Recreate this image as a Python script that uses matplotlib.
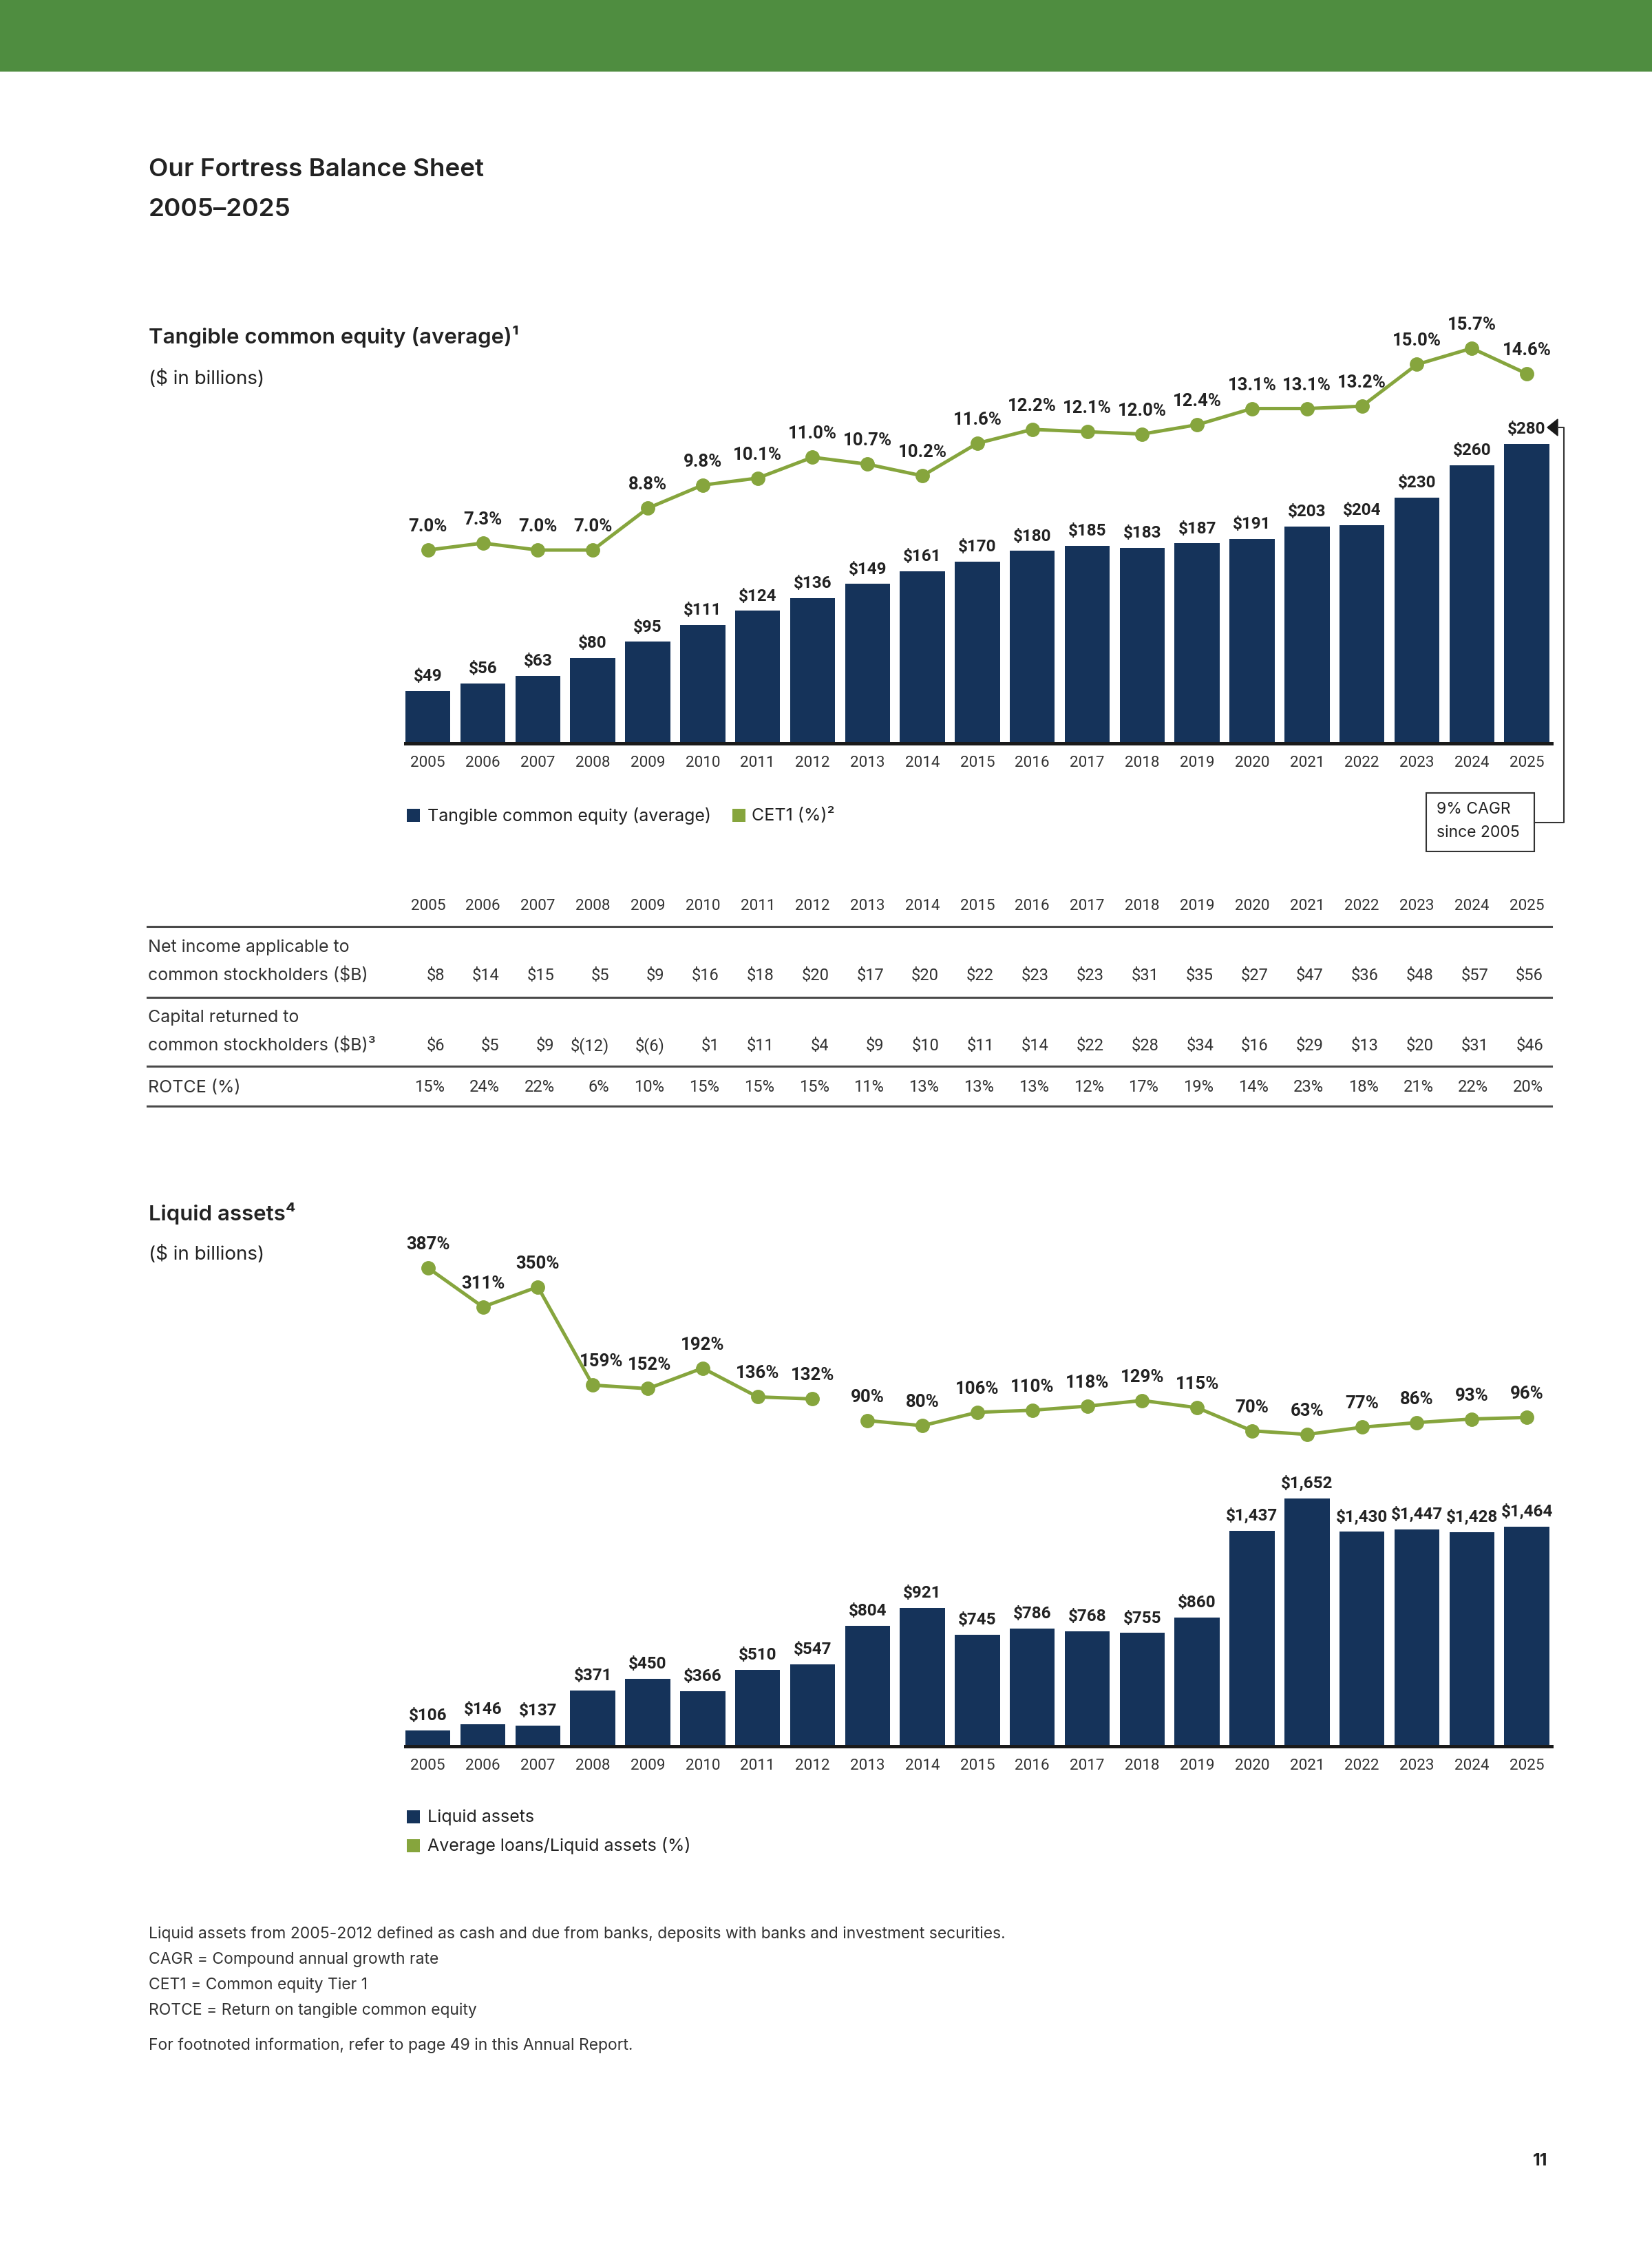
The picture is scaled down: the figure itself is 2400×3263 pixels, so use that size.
import matplotlib
matplotlib.use('Agg')
import matplotlib.pyplot as plt
from matplotlib import font_manager
from matplotlib.patches import Rectangle, Polygon
import numpy as np

years = list(range(2005, 2026))
tce = [49, 56, 63, 80, 95, 111, 124, 136, 149, 161, 170, 180, 185, 183, 187, 191, 203, 204, 230, 260, 280]
cet1 = [7.0, 7.3, 7.0, 7.0, 8.8, 9.8, 10.1, 11.0, 10.7, 10.2, 11.6, 12.2, 12.1, 12.0, 12.4, 13.1, 13.1, 13.2, 15.0, 15.7, 14.6]
net_income = [8, 14, 15, 5, 9, 16, 18, 20, 17, 20, 22, 23, 23, 31, 35, 27, 47, 36, 48, 57, 56]
capital_returned = [6, 5, 9, -12, -6, 1, 11, 4, 9, 10, 11, 14, 22, 28, 34, 16, 29, 13, 20, 31, 46]
rotce = [15, 24, 22, 6, 10, 15, 15, 15, 11, 13, 13, 13, 12, 17, 19, 14, 23, 18, 21, 22, 20]
liquid_assets = [106, 146, 137, 371, 450, 366, 510, 547, 804, 921, 745, 786, 768, 755, 860, 1437, 1652, 1430, 1447, 1428, 1464]
loans_to_liquid = [387, 311, 350, 159, 152, 192, 136, 132, 90, 80, 106, 110, 118, 129, 115, 70, 63, 77, 86, 93, 96]

footnotes = [
    "Liquid assets from 2005-2012 defined as cash and due from banks, deposits with banks and investment securities.",
    "CAGR = Compound annual growth rate",
    "CET1 = Common equity Tier 1",
    "ROTCE = Return on tangible common equity",
]

NAVY = '#15335a'
OLIVE = '#86a53d'
BAND = '#4f8d40'
INK = '#222222'
GREY = '#333333'

W, H = 2400, 3263
DPI = 100

installed = {f.name for f in font_manager.fontManager.ttflist}
TEXT_FONT = [f for f in ['Inter', 'Roboto', 'DejaVu Sans'] if f in installed][0]
narrow = 'Liberation Sans Narrow' in installed
NUM_FONT = 'Liberation Sans Narrow' if narrow else 'Roboto'
k = 1.0 if narrow else 0.9
TXT = [TEXT_FONT, 'DejaVu Sans']
NUM = [NUM_FONT, 'DejaVu Sans']

fig = plt.figure(figsize=(W / DPI, H / DPI), dpi=DPI)
fig.patch.set_facecolor('white')

# overlay in page pixels for text and rules
ov = fig.add_axes([0, 0, 1, 1])
ov.set_xlim(0, W)
ov.set_ylim(H, 0)
ov.axis('off')


def rect(left, top, right, bottom):
    return [left / W, 1 - bottom / H, (right - left) / W, (bottom - top) / H]


def money(v):
    return f"${v:,}" if v >= 0 else f"$({-v:,})"


ov.add_patch(Rectangle((0, 0), W, 104, color=BAND, lw=0))
ov.text(216, 246, "Our Fortress Balance Sheet", fontsize=26.5, fontweight='semibold', family=TXT, color=INK, va='center')
ov.text(216, 304, "2005–2025", fontsize=26.5, fontweight='semibold', family=TXT, color=INK, va='center')

ov.text(216, 489, "Tangible common equity (average)¹", fontsize=22.5, fontweight='semibold', family=TXT, color=INK, va='center')
ov.text(216, 550, "($ in billions)", fontsize=20, family=TXT, color=INK, va='center')
ov.text(216, 1763, "Liquid assets⁴", fontsize=22.5, fontweight='semibold', family=TXT, color=INK, va='center')
ov.text(216, 1823, "($ in billions)", fontsize=20, family=TXT, color=INK, va='center')


def draw_chart(top, bottom, bars, px_per_bar, line, zero_px, px_per_pct, line_fmt, segments, nudge=None):
    nudge = nudge or {}
    ax = fig.add_axes(rect(589, top, 2254, bottom))
    ax.patch.set_alpha(0)
    x = np.arange(len(years))
    ax.bar(x, bars, width=0.82, color=NAVY, zorder=2)
    ax.set_xlim(-0.41, 20.45)
    ax.set_ylim(0, (bottom - top) / px_per_bar)
    for s in ['top', 'left', 'right']:
        ax.spines[s].set_visible(False)
    ax.spines['bottom'].set_linewidth(3.6)
    ax.spines['bottom'].set_color('#1a1a1a')
    ax.set_yticks([])
    ax.set_xticks(x, [str(y) for y in years])
    ax.tick_params(axis='x', length=0, pad=13, labelsize=18 * k, labelcolor=GREY)
    for lab in ax.get_xticklabels():
        lab.set_family(NUM)
    for xi, v in zip(x, bars):
        ax.annotate(money(v), (xi, v), xytext=(0, 7), textcoords='offset points',
                    ha='center', va='bottom', fontsize=17.5, fontweight='bold',
                    family=NUM, color=INK)

    lx = ax.twinx()
    lx.set_ylim((zero_px - bottom) / px_per_pct, (zero_px - top) / px_per_pct)
    lx.axis('off')
    vals = np.array(line, dtype=float)
    for a, b in segments:
        lx.plot(x[a:b], vals[a:b], color=OLIVE, lw=3.6, zorder=3)
    lx.plot(x, vals, 'o', color=OLIVE, ms=14, zorder=4)
    for i, (xi, v) in enumerate(zip(x, vals)):
        lx.annotate(line_fmt(v), (xi, v), xytext=(nudge.get(i, 0), 24.5), textcoords='offset points',
                    ha='center', va='center', fontsize=18.5, fontweight='bold',
                    family=NUM, color=INK)
    return ax


draw_chart(380, 1080, tce, 1.554, cet1, 1035, 33.7, lambda v: f"{v:.1f}%", [(0, 21)])
draw_chart(1740, 2537, liquid_assets, 0.218, loans_to_liquid, 2131, 0.747, lambda v: f"{v:.0f}%",
           [(0, 8), (8, 21)], nudge={3: 9, 4: 2})

# CAGR callout
ov.add_patch(Polygon([(2248, 621), (2263, 609), (2263, 633)], closed=True, color='#1a1a1a'))
ov.plot([2263, 2272, 2272, 2229], [621, 621, 1195, 1195], color='#333333', lw=1.5)
ov.add_patch(Rectangle((2072, 1152), 157, 85, fill=False, ec='#333333', lw=1.5))
ov.text(2087, 1176, "9% CAGR", fontsize=16.5, family=TXT, color=INK, va='center')
ov.text(2087, 1210, "since 2005", fontsize=16.5, family=TXT, color=INK, va='center')

# legends
ov.add_patch(Rectangle((591, 1175), 19, 19, color=NAVY, lw=0))
ov.text(621, 1185, "Tangible common equity (average)", fontsize=18, family=TXT, color=INK, va='center')
ov.add_patch(Rectangle((1064, 1175), 19, 19, color=OLIVE, lw=0))
ov.text(1092, 1185, "CET1 (%)²", fontsize=18, family=TXT, color=INK, va='center')

ov.add_patch(Rectangle((591, 2630), 19, 19, color=NAVY, lw=0))
ov.text(621, 2640, "Liquid assets", fontsize=18, family=TXT, color=INK, va='center')
ov.add_patch(Rectangle((591, 2672), 19, 19, color=OLIVE, lw=0))
ov.text(621, 2682, "Average loans/Liquid assets (%)", fontsize=18, family=TXT, color=INK, va='center')

# table
cols = 622 + 79.8 * np.arange(len(years))
for cx, y in zip(cols, years):
    ov.text(cx, 1316, str(y), fontsize=18 * k, family=NUM, color=GREY, ha='center', va='center')
for ly in [1346, 1449, 1549, 1607]:
    ov.plot([214, 2254], [ly, ly], color='#4a4a4a', lw=2.2)

ov.text(215, 1376, "Net income applicable to", fontsize=18, family=TXT, color=GREY, va='center')
ov.text(215, 1417, "common stockholders ($B)", fontsize=18, family=TXT, color=GREY, va='center')
ov.text(215, 1478, "Capital returned to", fontsize=18, family=TXT, color=GREY, va='center')
ov.text(215, 1519, "common stockholders ($B)³", fontsize=18, family=TXT, color=GREY, va='center')
ov.text(215, 1580, "ROTCE (%)", fontsize=18, family=TXT, color=GREY, va='center')
for cx, a, b, c in zip(cols, net_income, capital_returned, rotce):
    ov.text(cx + 24, 1417, money(a), fontsize=19 * k, family=NUM, color=GREY, ha='right', va='center')
    ov.text(cx + 24, 1519, money(b), fontsize=19 * k, family=NUM, color=GREY, ha='right', va='center')
    ov.text(cx + 24, 1580, f"{c}%", fontsize=19 * k, family=NUM, color=GREY, ha='right', va='center')

# footnotes
for i, line in enumerate(footnotes):
    ov.text(216, 2810 + i * 37, line, fontsize=16.5, family=TXT, color=GREY, va='center')
ov.text(216, 2972, "For footnoted information, refer to page 49 in this Annual Report.",
        fontsize=16.5, family=TXT, color=GREY, va='center')

ov.text(2238, 3140, "11", fontsize=18, fontweight='bold', family=TXT, color=INK, ha='center', va='center')

fig.savefig('out.png', dpi=DPI)
